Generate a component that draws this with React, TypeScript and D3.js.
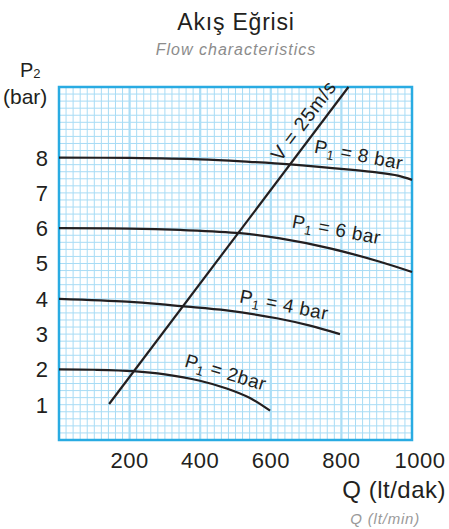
import * as d3 from 'd3';
import React from 'react';

// flow curves: Q (lt/dak) vs P2 (bar)
const q8 = [0, 200, 400, 540, 654, 824, 900, 960, 1000];
const p8 = [8.0, 7.99, 7.95, 7.88, 7.81, 7.66, 7.58, 7.49, 7.37];
const q6 = [0, 200, 343, 513, 626, 768, 909, 1000];
const p6 = [6.0, 5.99, 5.95, 5.86, 5.71, 5.43, 5.05, 4.76];
const q4 = [0, 192, 286, 347, 475, 617, 711, 796];
const p4 = [4.0, 3.92, 3.85, 3.79, 3.67, 3.45, 3.24, 3.0];
const q2 = [0, 100, 210, 300, 399, 475, 541, 598];
const p2 = [2.0, 1.99, 1.95, 1.86, 1.68, 1.46, 1.19, 0.83];
const qV = [142, 820];
const pV = [1.02, 10];

const curveLabels = ['8 bar', '6 bar', '4 bar', '2bar'];
const labelQ = [846, 783, 634, 467];
const labelP = [7.9, 5.78, 3.65, 1.74];
const labelAngle = [11, 10.7, 11.5, 17];

const xTicks = [200, 400, 600, 800, 1000];
const yTicks = [1, 2, 3, 4, 5, 6, 7, 8];

const ink = '#231f20';
const blue = '#29abe2';

const App = () => {
    const x = d3.scaleLinear().domain([0, 1000]).range([59, 412]);
    const y = d3.scaleLinear().domain([0, 10]).range([440, 87]);

    const line = d3.line<[number, number]>()
        .x(d => x(d[0]))
        .y(d => y(d[1]))
        .curve(d3.curveCatmullRom.alpha(0.5));

    const series = [[q8, p8], [q6, p6], [q4, p4], [q2, p2]];

    const minorX = d3.range(20, 1000, 20);
    const minorY = d3.range(0.2, 10, 0.2);

    return <svg width={449} height={529}
        style={{ position: 'absolute', left: 0, top: 0, background: '#fff' }}
        fontFamily="'Liberation Sans', Arial, sans-serif">
        {/* title */}
        <text x={236} y={30} textAnchor="middle" fontSize={23} letterSpacing={0.8} fill={ink}>Akış Eğrisi</text>
        <text x={236} y={55} textAnchor="middle" fontSize={16} fontStyle="italic" letterSpacing={1} fill="#8c8c8c">Flow characteristics</text>

        {/* y axis title */}
        <text x={20} y={77} fontSize={20} fill={ink}>P<tspan fontSize={13} dy={1}>2</tspan></text>
        <text x={3} y={104} fontSize={21} fill={ink}>(bar)</text>

        {/* grid */}
        <g stroke="#a8dcf5" strokeWidth={1}>
            {minorX.map(v => <line key={'mx' + v} x1={x(v)} x2={x(v)} y1={y(0)} y2={y(10)} />)}
            {minorY.map(v => <line key={'my' + v} x1={x(0)} x2={x(1000)} y1={y(v)} y2={y(v)} />)}
        </g>
        <g stroke="#abdef6" strokeWidth={2.2}>
            {[200, 400, 600, 800].map(v => <line key={'Mx' + v} x1={x(v)} x2={x(v)} y1={y(0)} y2={y(10)} />)}
        </g>
        <rect x={x(0)} y={y(10)} width={x(1000) - x(0)} height={y(0) - y(10)}
            fill="none" stroke={blue} strokeWidth={2.5} />

        {/* curves */}
        <g fill="none" stroke={ink} strokeWidth={2.2}>
            {series.map((s, i) =>
                <path key={i} d={line(s[0].map((q, j) => [q, s[1][j]]) as [number, number][]) || ''} />)}
            <path d={line(qV.map((q, j) => [q, pV[j]]) as [number, number][]) || ''} />
        </g>

        {/* curve labels */}
        {curveLabels.map((t, i) =>
            <text key={t} fontSize={19} letterSpacing={0.5} fill={ink} textAnchor="middle"
                transform={`translate(${x(labelQ[i])},${y(labelP[i])}) rotate(${labelAngle[i]})`}>
                P<tspan fontSize={13} dy={4}>1</tspan><tspan dy={-4}> = {t}</tspan>
            </text>)}
        <text fontSize={19.5} letterSpacing={0.7} fill={ink} textAnchor="middle"
            transform={`translate(${x(708)},${y(8.93)}) rotate(-53)`}>V = 25m/s</text>

        {/* y tick labels */}
        {yTicks.map(v =>
            <text key={'yt' + v} x={48} y={y(v)} dy="0.36em" textAnchor="end" fontSize={22} fill={ink}>{v}</text>)}
        {/* x tick labels */}
        {xTicks.map(v =>
            <text key={'xt' + v} x={x(v) + (v === 1000 ? 8 : 0)} y={468} textAnchor="middle" fontSize={22} letterSpacing={0.5} fill={ink}>{v}</text>)}

        <text x={446} y={498} textAnchor="end" fontSize={24} letterSpacing={0.5} fill={ink}>Q (lt/dak)</text>
        <text x={420} y={524} textAnchor="end" fontSize={15} fontStyle="italic" letterSpacing={0.8} fill="#9a9a9a">Q (lt/min)</text>
    </svg>;
}
export default App;
